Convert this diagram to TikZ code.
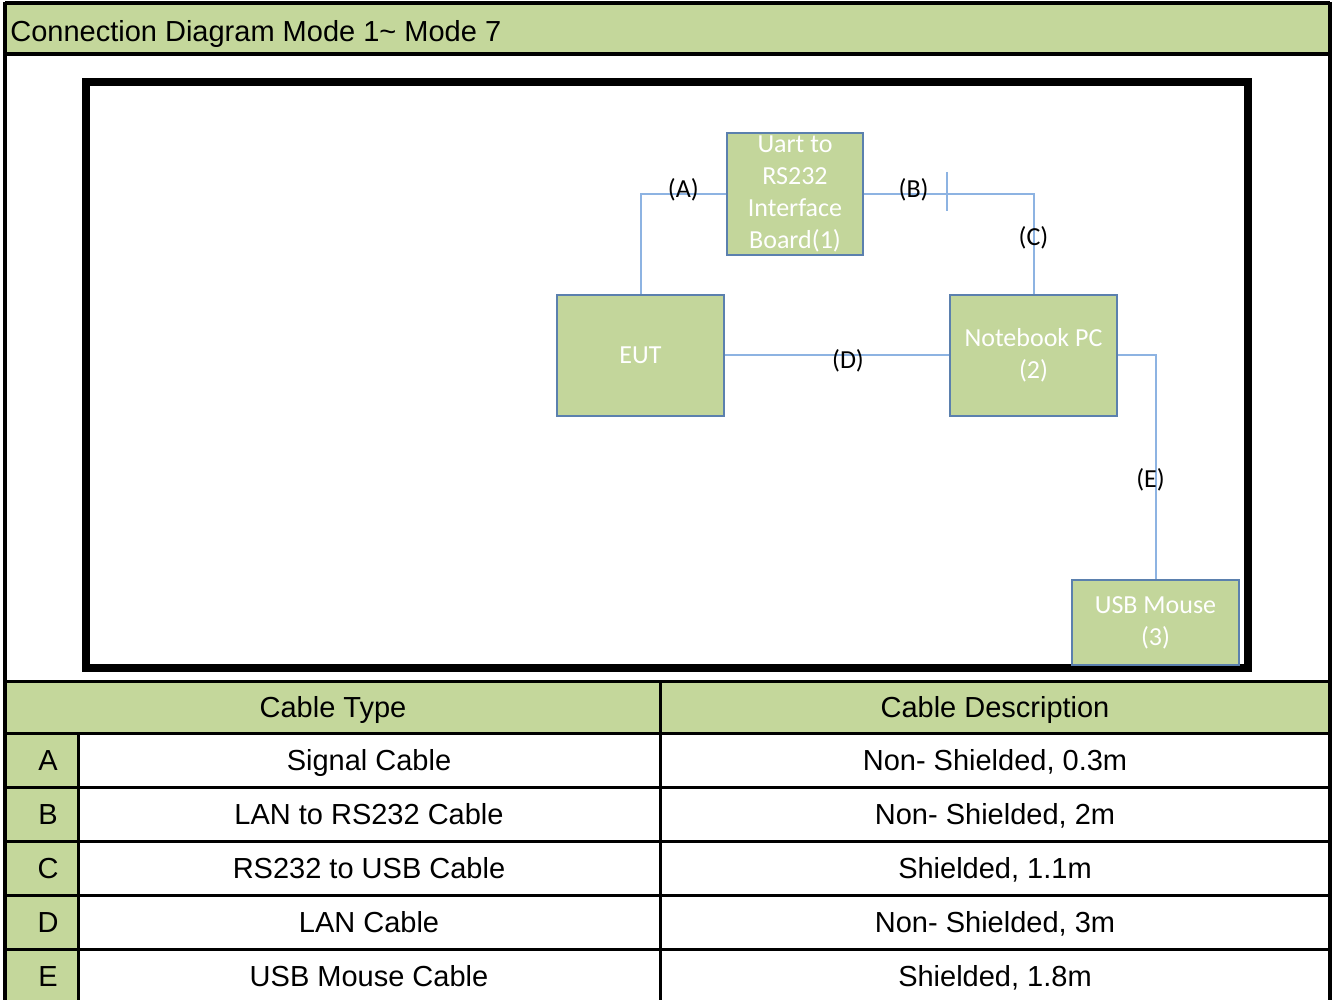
\documentclass[tikz,border=0pt]{standalone}
\usepackage{fontspec}
\setmainfont{Liberation Sans}
\newfontfamily\boxfont{Carlito}
\usetikzlibrary{positioning}
\definecolor{hdrGreen}{HTML}{C4D79B}
\definecolor{boxGreen}{HTML}{C3D69B}
\definecolor{boxEdge}{HTML}{5B80AE}
\definecolor{cableBlue}{HTML}{8DB3E2}
\newcommand{\BoxFont}{\boxfont\fontsize{13}{16}\selectfont}
\newcommand{\CellFont}{\fontsize{14.5}{17}\selectfont}
\tikzset{
  unit box/.style={draw=boxEdge, line width=0.75pt, fill=boxGreen, text=white,
    font=\BoxFont, align=center, inner sep=0pt},
  cable/.style={cableBlue, line width=1pt},
  cable label/.style={font=\BoxFont, text=black, inner sep=0pt},
  grid line/.style={black, line width=1.5pt},
  cell/.style={font=\CellFont, text=black, inner sep=0pt, anchor=base},
}

\begin{document}
\begin{tikzpicture}[x=0.5pt,y=-0.5pt]
  \useasboundingbox (0,0) rectangle (1335,1000);

  % header bars
  \fill[hdrGreen] (5,3) rectangle (1330,54);
  \fill[hdrGreen] (5,681) rectangle (1330,733);
  \fill[hdrGreen] (5,733) rectangle (78,1003);
  \node[cell, anchor=base west] (title) at (10,41.5) {Connection Diagram Mode 1\textasciitilde\ Mode 7};

  % diagram frame
  \draw[line width=4pt] (86,82) rectangle (1248,668);

  % units
  \node[unit box, minimum width=68pt, minimum height=61pt] (uart) at (795,194)
    {Uart to\\RS232\\Interface\\Board(1)};
  \node[unit box, minimum width=83.5pt, minimum height=60.5pt] (eut) at (640.5,355.5) {EUT};
  \node[unit box, minimum width=83.5pt, minimum height=60.5pt] (nb) at (1033.5,355.5)
    {Notebook PC\\(2)};
  \node[unit box, minimum width=83.5pt, minimum height=42.5pt] (mouse) at (1155.5,622.5)
    {USB Mouse\\(3)};

  % cables
  \draw[cable] (eut.north) |- (uart.west)
    node[cable label, pos=0.75, yshift=2pt] (labA) {(A)};
  \draw[cable] (uart.east) -| (nb.north)
    node[cable label, pos=0.147, yshift=2pt] (labB) {(B)}
    node[cable label, pos=0.718] (labC) {(C)};
  \draw[cable] (947,172) -- (947,211);
  \draw[cable] (eut.east) -- (nb.west)
    node[cable label, pos=0.549, yshift=-2.5pt] (labD) {(D)};
  \draw[cable] (nb.east) -| (mouse.north)
    node[cable label, pos=0.778, xshift=-2.5pt] (labE) {(E)};

  % cable table
  \node[cell] (hdType) at (333,717.5) {Cable Type};
  \node[cell] (hdDesc) at (995,717.5) {Cable Description};
  \foreach \id/\kind/\desc [count=\k from 0] in {%
    {A/Signal Cable/Non- Shielded, 0.3m},%
    {B/LAN to RS232 Cable/Non- Shielded, 2m},%
    {C/RS232 to USB Cable/Shielded, 1.1m},%
    {D/LAN Cable/Non- Shielded, 3m},%
    {E/USB Mouse Cable/Shielded, 1.8m}%
  } {
    \pgfmathsetmacro{\yy}{770.5+54*\k}
    \node[cell] (id-\id) at (48,\yy) {\id};
    \node[cell] (kind-\id) at (369,\yy) {\kind};
    \node[cell] (desc-\id) at (995,\yy) {\desc};
  }

  % grid
  \foreach \yy in {681,733,787,841,895,949} {
    \draw[grid line] (5,\yy) -- (1330,\yy);
  }
  \draw[grid line] (78,733) -- (78,1003);
  \draw[grid line] (660,681) -- (660,1003);
  \draw[line width=2pt] (5,3) -- (1330,3);
  \draw[line width=2pt] (5,54) -- (1330,54);
  \draw[line width=1.6pt] (5,2) -- (5,1003);
  \draw[line width=2pt] (1330,2) -- (1330,1003);
\end{tikzpicture}
\end{document}
